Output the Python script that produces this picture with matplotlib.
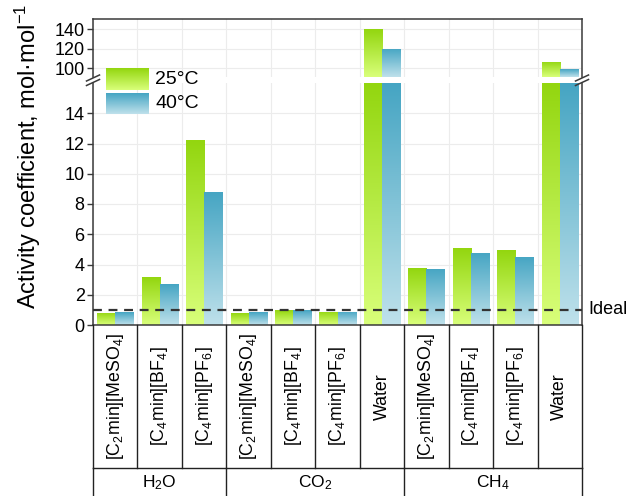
import numpy as np
import matplotlib
matplotlib.use('Agg')
import matplotlib.pyplot as plt
from matplotlib.colors import LinearSegmentedColormap
from matplotlib.lines import Line2D

plt.rcParams['font.family'] = ['Liberation Sans', 'DejaVu Sans']
plt.rcParams['mathtext.fontset'] = 'custom'
plt.rcParams['mathtext.rm'] = 'Liberation Sans'
plt.rcParams['mathtext.it'] = 'Liberation Sans:italic'
plt.rcParams['mathtext.default'] = 'regular'

# ---------------- data ----------------
categories = [r'[C$_2$min][MeSO$_4$]', r'[C$_4$min][BF$_4$]', r'[C$_4$min][PF$_6$]',
              r'[C$_2$min][MeSO$_4$]', r'[C$_4$min][BF$_4$]', r'[C$_4$min][PF$_6$]', 'Water',
              r'[C$_2$min][MeSO$_4$]', r'[C$_4$min][BF$_4$]', r'[C$_4$min][PF$_6$]', 'Water']
groups = [r'H$_2$O', r'CO$_2$', r'CH$_4$']
group_sizes = [3, 4, 4]
series = ['25°C', '40°C']
vals_25 = [0.82, 3.17, 12.23, 0.77, 0.96, 0.86, 140.0, 3.76, 5.06, 4.95, 106.5]
vals_40 = [0.84, 2.68, 8.82, 0.83, 0.99, 0.86, 120.0, 3.72, 4.77, 4.50, 99.0]
ideal = 1.0
low_ticks = [0, 2, 4, 6, 8, 10, 12, 14]
high_ticks = [100, 120, 140]

# ---------------- style ----------------
W, H = 630, 496
green = ('#93d60f', '#d9ff7a')   # top, bottom
blue = ('#45a5c3', '#bfe1eb')
spine_c = '#3a3a3a'
grid_c = '#ececec'

fig = plt.figure(figsize=(W / 100, H / 100), dpi=100)

def fx(px):
    return px / W

def fy(py):
    return (H - py) / H

left, right = 93, 582
ax_hi = fig.add_axes([fx(left), fy(77), fx(right - left), fy(19) - fy(77)])
ax_lo = fig.add_axes([fx(left), fy(325), fx(right - left), fy(83) - fy(325)])
ax_t = fig.add_axes([fx(left), 0, fx(right - left), fy(325)])

n = len(categories)
x = np.arange(n)
bw = 0.405
lims = {ax_hi: (91, 150.5), ax_lo: (0, 16)}
grad = np.linspace(0, 1, 256).reshape(-1, 1)


def grad_bars(ax, xs, hs, cols):
    ylo, yhi = lims[ax]
    cmap = LinearSegmentedColormap.from_list('g', [cols[1], cols[0]])
    bars = ax.bar(xs, hs, bw, color='none', edgecolor='none', zorder=2)
    for b, h in zip(bars, hs):
        top = min(h, yhi)
        bot = max(0, ylo)
        if top <= bot:
            continue
        x0 = b.get_x()
        im = ax.imshow(grad, cmap=cmap, origin='lower', aspect='auto',
                       extent=[x0, x0 + b.get_width(), bot, top], zorder=2,
                       interpolation='bilinear')
        im.set_clip_path(b)
    return bars


for ax in (ax_hi, ax_lo):
    grad_bars(ax, x - bw / 2, vals_25, green)
    grad_bars(ax, x + bw / 2, vals_40, blue)
    ax.set_xlim(-0.5, n - 0.5)
    ax.set_ylim(*lims[ax])
    ax.set_xticks(np.arange(-0.5, n, 1))
    ax.tick_params(axis='x', length=0, labelbottom=False)
    ax.grid(True, color=grid_c, lw=0.8, zorder=0)
    ax.set_axisbelow(True)
    for s in ax.spines.values():
        s.set_color(spine_c)
        s.set_linewidth(1.1)
    ax.tick_params(axis='y', direction='out', length=4, width=1, color=spine_c,
                   labelsize=13, pad=2)

ax_hi.set_yticks(high_ticks)
ax_lo.set_yticks(low_ticks)
ax_hi.spines['bottom'].set_visible(False)
ax_lo.spines['top'].set_visible(False)

ax_lo.axhline(ideal, color='#333333', lw=1.6, ls=(0, (4.0, 3.0)), zorder=3)
ax_lo.text(1.014, ideal, 'Ideal', transform=ax_lo.get_yaxis_transform(),
           va='center', ha='left', fontsize=13)

# break marks
for xc in (left, right):
    for yc in (78.0, 82.5):
        fig.add_artist(Line2D([fx(xc - 6.5), fx(xc + 6.5)], [fy(yc + 3), fy(yc - 3)],
                              color=spine_c, lw=1.1))

# ---------------- category table ----------------
ax_t.set_xlim(-0.5, n - 0.5)
ax_t.set_ylim(H - 325, 0)
ax_t.axis('off')
row_y = 468 - 325
lc = '#222222'
for i in range(n + 1):
    ax_t.plot([i - 0.5, i - 0.5], [0, row_y], color=lc, lw=1.0, clip_on=False)
ax_t.plot([-0.5, n - 0.5], [row_y, row_y], color=lc, lw=1.0, clip_on=False)
bounds = np.concatenate([[0], np.cumsum(group_sizes)]) - 0.5
for b in bounds:
    ax_t.plot([b, b], [row_y, H - 325], color=lc, lw=1.0, clip_on=False)
for i, lab in enumerate(categories):
    ax_t.text(i, row_y / 2, lab, rotation=90, ha='center', va='center', fontsize=12.8)
for g, a, b in zip(groups, bounds[:-1], bounds[1:]):
    ax_t.text((a + b) / 2, row_y + 15, g, ha='center', va='center', fontsize=12.5)

# ---------------- y label ----------------
fig.text(0.044, 0.685, 'Activity coefficient, mol·mol$^{-1}$', rotation=90,
         ha='center', va='center', fontsize=17)

# ---------------- legend ----------------
for (yt, yb), cols, lab in zip([(68, 90), (93, 114)], [green, blue], series):
    lax = fig.add_axes([fx(106), fy(yb), fx(149 - 106), fy(yt) - fy(yb)])
    cmap = LinearSegmentedColormap.from_list('l', [cols[1], cols[0]])
    lax.imshow(grad, cmap=cmap, origin='lower', aspect='auto', extent=[0, 1, 0, 1])
    lax.axis('off')
    fig.text(fx(155), fy((yt + yb) / 2), lab, ha='left', va='center', fontsize=14)

fig.savefig('out.png', dpi=100)
